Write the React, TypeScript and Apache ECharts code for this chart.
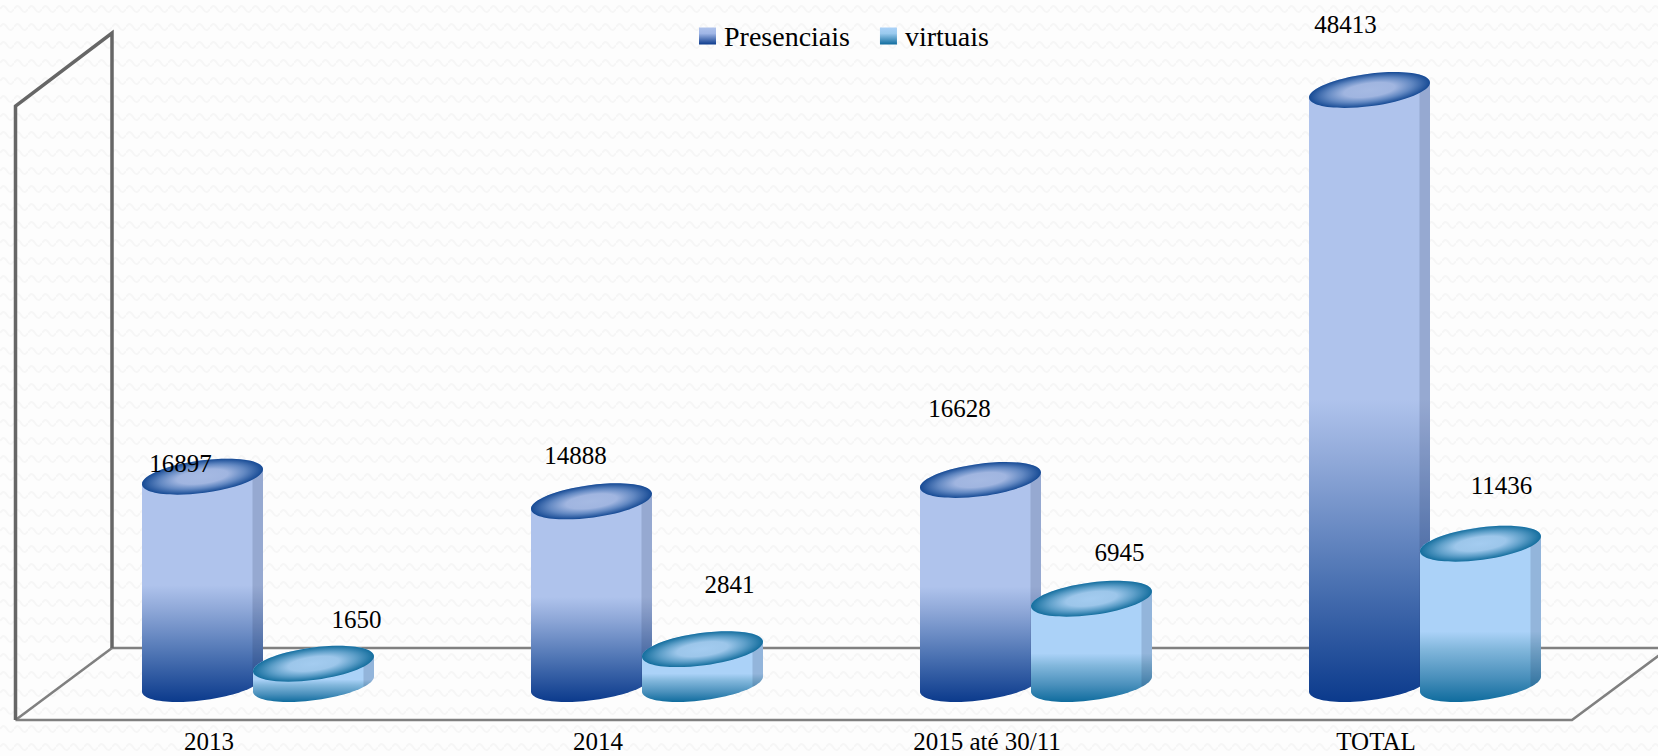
import React, { useEffect, useRef } from "react";
import * as echarts from "echarts";

const categories = ["2013", "2014", "2015 até 30/11", "TOTAL"];
const presenciais = [16897, 14888, 16628, 48413];
const virtuais = [1650, 2841, 6945, 11436];
const presenciaisLabelShift = [[-22, -13], [-16, -46], [-21, -71], [-24, -65]];
const virtuaisLabelShift = [[43, -44], [27, -65], [28, -46], [21, -58]];

const SERIF = "'Liberation Serif', 'DejaVu Serif', serif";
const RX = 61;
const RY = 16.2;
const TILT = (7.6 * Math.PI) / 180;
const BAR_SHIFT = 55.5;
const HALF_W = Math.sqrt(RX * RX * Math.cos(TILT) ** 2 + RY * RY * Math.sin(TILT) ** 2);
const PHI = Math.atan2(RY * Math.sin(TILT), RX * Math.cos(TILT));
const localX = (t: number) => RX * Math.cos(t) * Math.cos(TILT) + RY * Math.sin(t) * Math.sin(TILT);
const localY = (t: number) => -RX * Math.cos(t) * Math.sin(TILT) + RY * Math.sin(t) * Math.cos(TILT);
const STRIP_X = 50;
const STRIP_T = PHI + Math.acos(STRIP_X / HALF_W);

const rimPoints = (from: number, to: number, steps: number) => {
  const pts: [number, number][] = [];
  for (let i = 0; i <= steps; i++) {
    const t = from + ((to - from) * i) / steps;
    pts.push([localX(t), localY(t)]);
  }
  return pts;
};
const LOWER_RIM = rimPoints(PHI, PHI + Math.PI, 48);
const UPPER_RIM = rimPoints(PHI + Math.PI, PHI + 2 * Math.PI, 48);
const STRIP_RIM = rimPoints(STRIP_T, PHI, 10);

const vgrad = (stops: [number, string][]) => ({
  type: "linear", x: 0, y: 0, x2: 0, y2: 1,
  colorStops: stops.map(([offset, color]) => ({ offset, color })),
});
const topGrad = (stops: [number, string][]) => ({
  type: "radial", x: 0.5, y: 0.5, r: 0.5,
  colorStops: stops.map(([offset, color]) => ({ offset, color })),
});

const bodyP = vgrad([[0, "#AFC3EC"], [0.52, "#AFC3EC"], [0.62, "#8FA8D8"], [0.8, "#4F75B4"], [1, "#0B3A8C"]]);
const bodyV = vgrad([[0, "#ABD2F8"], [0.6, "#ABD2F8"], [0.7, "#82B7DC"], [0.86, "#4A90BC"], [1, "#0F6C9E"]]);
const capP = topGrad([[0, "#A6BAE3"], [0.42, "#A0B5E0"], [0.7, "#6288C2"], [1, "#164A94"]]);
const capV = topGrad([[0, "#A4CCF0"], [0.42, "#9CC6EA"], [0.7, "#5E9FC9"], [1, "#146E9E"]]);
const keyP = vgrad([[0, "#AFC3EC"], [0.35, "#A0B6E6"], [1, "#0B3A8C"]]);
const keyV = vgrad([[0, "#ABD2F8"], [0.35, "#9ACAEE"], [1, "#0F6C9E"]]);

const makeRender = (dir: number, body: any, cap: any, shifts: number[][]) => (params: any, api: any) => {
  const idx = api.value(0);
  const value = api.value(1);
  const [px, topY] = api.coord([idx, value]);
  const [, baseY] = api.coord([idx, 0]);
  const cx = px + dir * BAR_SHIFT;
  const outline = [
    ...LOWER_RIM.map(([x, y]) => [cx + x, baseY + y]),
    ...UPPER_RIM.map(([x, y]) => [cx + x, topY + y]),
  ];
  const strip = [
    [cx + STRIP_X, topY],
    ...STRIP_RIM.map(([x, y]) => [cx + x, baseY + y]),
    [cx + HALF_W, topY + localY(PHI)],
  ];
  const shift = shifts[idx];
  return {
    type: "group",
    children: [
      { type: "polygon", shape: { points: outline }, style: { fill: body } },
      { type: "polygon", shape: { points: strip }, style: { fill: "rgba(30,40,80,0.17)" } },
      {
        type: "ellipse", x: cx, y: topY, rotation: TILT,
        shape: { cx: 0, cy: 0, rx: RX, ry: RY },
        style: { fill: cap },
      },
      {
        type: "text", x: cx + shift[0], y: topY + shift[1],
        style: {
          text: String(value), fontFamily: SERIF, fontSize: 25, fill: "#000",
          align: "center", verticalAlign: "middle",
        },
      },
    ],
  };
};

const wave =
  "url(\"data:image/svg+xml,%3Csvg xmlns='http://www.w3.org/2000/svg' width='14' height='18'%3E" +
  "%3Cpath d='M0 9Q3.5 3 7 9T14 9' fill='none' stroke='%23f6f6f6' stroke-width='2'/%3E%3C/svg%3E\")";

export default function App() {
  const ref = useRef<HTMLDivElement>(null);
  useEffect(() => {
    const chart = echarts.init(ref.current!, null, { renderer: "svg" });
    const wallStyle = { stroke: "#666", lineWidth: 3.5, fill: "none" };
    const floorStyle = { stroke: "#808080", lineWidth: 2.5, fill: "none" };
    chart.setOption({
      animation: false,
      backgroundColor: "transparent",
      grid: { left: 63.5, top: 70.5, width: 1556, height: 613.5 },
      legend: {
        left: 694, top: 17, itemWidth: 17, itemHeight: 17, itemGap: 30, icon: "rect",
        textStyle: { fontFamily: SERIF, fontSize: 28, color: "#000", padding: [0, 0, 10, 3] },
        data: [
          { name: "Presenciais", itemStyle: { color: keyP } },
          { name: "virtuais", itemStyle: { color: keyV } },
        ],
      },
      xAxis: {
        type: "category", data: categories,
        axisLine: { show: false }, axisTick: { show: false }, splitLine: { show: false },
        axisLabel: {
          interval: 0, margin: 45, fontFamily: SERIF, fontSize: 25, color: "#000",
          padding: [0, 98, 0, 0],
        },
      },
      yAxis: { type: "value", min: 0, max: 50000, show: false },
      graphic: [
        { type: "polyline", z: 0, shape: { points: [[112, 648], [1669, 648]] }, style: floorStyle },
        { type: "polyline", z: 0, shape: { points: [[15.5, 720], [1572, 720], [1669, 648]] }, style: floorStyle },
        { type: "polyline", z: 0, shape: { points: [[15.5, 720], [112, 648]] }, style: floorStyle },
        { type: "polyline", z: 0, shape: { points: [[15.5, 720], [15.5, 106], [112, 33], [112, 648]] }, style: wallStyle },
      ],
      series: [
        {
          type: "custom", name: "Presenciais", clip: false,
          encode: { x: 0, y: 1 }, itemStyle: { color: keyP },
          data: presenciais.map((v, i) => [i, v]),
          renderItem: makeRender(-1, bodyP, capP, presenciaisLabelShift),
        },
        {
          type: "custom", name: "virtuais", clip: false,
          encode: { x: 0, y: 1 }, itemStyle: { color: keyV },
          data: virtuais.map((v, i) => [i, v]),
          renderItem: makeRender(1, bodyV, capV, virtuaisLabelShift),
        },
      ],
    });
    return () => chart.dispose();
  }, []);
  return (
    <div
      ref={ref}
      style={{
        position: "absolute", left: 0, top: 0, width: 1658, height: 756,
        backgroundColor: "#fdfdfd", backgroundImage: wave, overflow: "hidden",
      }}
    />
  );
}
